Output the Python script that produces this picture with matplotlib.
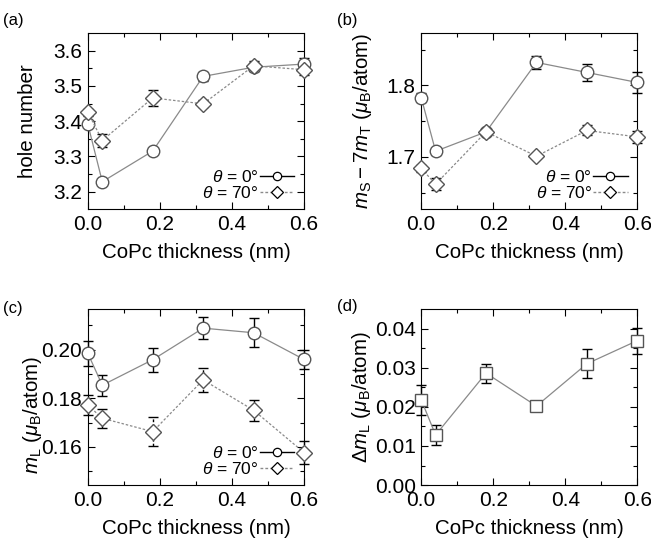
import matplotlib
matplotlib.use("Agg")
import matplotlib.pyplot as plt
from matplotlib.lines import Line2D

plt.rcParams['font.family'] = ['Liberation Sans', 'DejaVu Sans']
plt.rcParams['mathtext.fontset'] = 'custom'
plt.rcParams['mathtext.rm'] = 'Liberation Sans'
plt.rcParams['mathtext.it'] = 'Liberation Sans:italic'
plt.rcParams['mathtext.bf'] = 'Liberation Sans:bold'

# Data
thickness = [0.0, 0.04, 0.18, 0.32, 0.46, 0.60]

holes_0 = [3.391, 3.228, 3.315, 3.527, 3.553, 3.562]
holes_0_err = [0.008, 0.005, 0.008, 0.013, 0.012, 0.017]
holes_70 = [3.425, 3.345, 3.466, 3.449, 3.557, 3.546]
holes_70_err = [0.010, 0.019, 0.022, 0.010, 0.015, 0.015]

mseff_0 = [1.783, 1.708, 1.735, 1.832, 1.818, 1.804]
mseff_0_err = [0.0065, 0.005, 0.004, 0.009, 0.012, 0.015]
mseff_70 = [1.684, 1.662, 1.735, 1.701, 1.737, 1.728]
mseff_70_err = [0.005, 0.008, 0.004, 0.003, 0.007, 0.008]

ml_0 = [0.1985, 0.1854, 0.1959, 0.2089, 0.2070, 0.1960]
ml_0_err = [0.005, 0.0044, 0.005, 0.0045, 0.006, 0.004]
ml_70 = [0.1772, 0.1718, 0.1663, 0.1876, 0.1751, 0.1577]
ml_70_err = [0.004, 0.0038, 0.006, 0.005, 0.0043, 0.0048]

dml = [0.0218, 0.0128, 0.0286, 0.0202, 0.0310, 0.0369]
dml_err = [0.0038, 0.0026, 0.0024, 0.0012, 0.0037, 0.0033]

fig = plt.figure(figsize=(6.51, 5.42), dpi=100)

W, H = 0.332, 0.325
ax_a = fig.add_axes([0.135, 0.614, W, H])
ax_b = fig.add_axes([0.647, 0.614, W, H])
ax_c = fig.add_axes([0.135, 0.105, W, H])
ax_d = fig.add_axes([0.647, 0.105, W, H])

line_col = '#8a8a8a'
edge_col = '#555555'
dash = (0, (2, 1.5))


def style(ax, ylim, yticks, yminor, ylabel, fmt, labx, laby=0.5):
    ax.set_xlim(0, 0.6)
    ax.set_ylim(*ylim)
    ax.set_xticks([0.0, 0.2, 0.4, 0.6])
    ax.set_xticks([0.1, 0.3, 0.5], minor=True)
    ax.set_xticklabels(['0.0', '0.2', '0.4', '0.6'])
    ax.set_yticks(yticks)
    ax.set_yticks(yminor, minor=True)
    ax.set_yticklabels([fmt % v for v in yticks])
    ax.tick_params(which='both', direction='in', top=True, right=True,
                   labelsize=15, width=0.8)
    ax.tick_params(which='major', length=5, pad=4)
    ax.tick_params(which='minor', length=3)
    ax.set_xlabel('CoPc thickness (nm)', fontsize=14.8, labelpad=7)
    ax.set_ylabel(ylabel, fontsize=14.8)
    ax.yaxis.set_label_coords(labx, laby)
    for s in ax.spines.values():
        s.set_linewidth(0.8)


def add_err(ax, y, yerr, dashed):
    c = ax.errorbar(thickness, y, yerr=yerr, fmt='none', ecolor='black',
                    elinewidth=1.0, capsize=3.6, capthick=1.0, zorder=2)
    for art in list(c.lines[1]) + list(c.lines[2]):
        art.set_clip_on(False)
    if dashed:
        for art in c.lines[2]:
            art.set_linestyle(dash)
    return c


def add_line(ax, y, marker, ls, ms):
    ax.plot(thickness, y, color=line_col, lw=0.9, ls=ls, marker=marker,
            ms=ms, mfc='white', mec=edge_col, mew=1.0, clip_on=False,
            zorder=3)


def add_legend(ax):
    h0 = Line2D([], [], color='black', lw=1.0, ls='-', marker='o', ms=6,
                mfc='white', mec='black', mew=0.9)
    h70 = Line2D([], [], color=line_col, lw=1.0, ls=dash, marker='D',
                 ms=6, mfc='white', mec='black', mew=0.9)
    ax.legend([h0, h70], [r'$\theta$ = 0°', r'$\theta$ = 70°'],
              loc='lower right', frameon=False, markerfirst=False,
              fontsize=12.5, handlelength=2.0, handletextpad=0.05,
              labelspacing=0.0, borderaxespad=0.0, borderpad=0.0,
              bbox_to_anchor=(0.955, 0.045))


# (a) hole number
add_err(ax_a, holes_0, holes_0_err, False)
add_err(ax_a, holes_70, holes_70_err, False)
add_line(ax_a, holes_0, 'o', '-', 9)
add_line(ax_a, holes_70, 'D', dash, 8)
style(ax_a, (3.15, 3.65), [3.2, 3.3, 3.4, 3.5, 3.6],
      [3.25, 3.35, 3.45, 3.55], 'hole number', '%.1f', -0.236)
add_legend(ax_a)

# (b) effective spin moment
add_err(ax_b, mseff_0, mseff_0_err, False)
add_err(ax_b, mseff_70, mseff_70_err, True)
add_line(ax_b, mseff_0, 'o', '-', 9)
add_line(ax_b, mseff_70, 'D', dash, 8)
style(ax_b, (1.627, 1.873), [1.7, 1.8], [1.65, 1.75, 1.85],
      r'$m_\mathrm{S}-7m_\mathrm{T}$ ($\mu_\mathrm{B}$/atom)', '%.1f', -0.218)
add_legend(ax_b)

# (c) orbital moment
add_err(ax_c, ml_0, ml_0_err, False)
add_err(ax_c, ml_70, ml_70_err, True)
add_line(ax_c, ml_0, 'o', '-', 9)
add_line(ax_c, ml_70, 'D', dash, 8)
style(ax_c, (0.1443, 0.2168), [0.16, 0.18, 0.20], [0.15, 0.17, 0.19, 0.21],
      r'$m_\mathrm{L}$ ($\mu_\mathrm{B}$/atom)', '%.2f', -0.205, 0.40)
add_legend(ax_c)

# (d) orbital moment anisotropy
add_err(ax_d, dml, dml_err, False)
add_line(ax_d, dml, 's', '-', 8)
style(ax_d, (0.0, 0.045), [0.0, 0.01, 0.02, 0.03, 0.04],
      [0.005, 0.015, 0.025, 0.035],
      r'$\Delta m_\mathrm{L}$ ($\mu_\mathrm{B}$/atom)', '%.2f', -0.222)

for lab, (x, y) in zip(['(a)', '(b)', '(c)', '(d)'],
                       [(3, 21), (337, 21), (3, 308), (337, 307)]):
    fig.text(x / 651, 1 - y / 542, lab, fontsize=12, va='center', ha='left')

fig.savefig('out.png', dpi=100)
